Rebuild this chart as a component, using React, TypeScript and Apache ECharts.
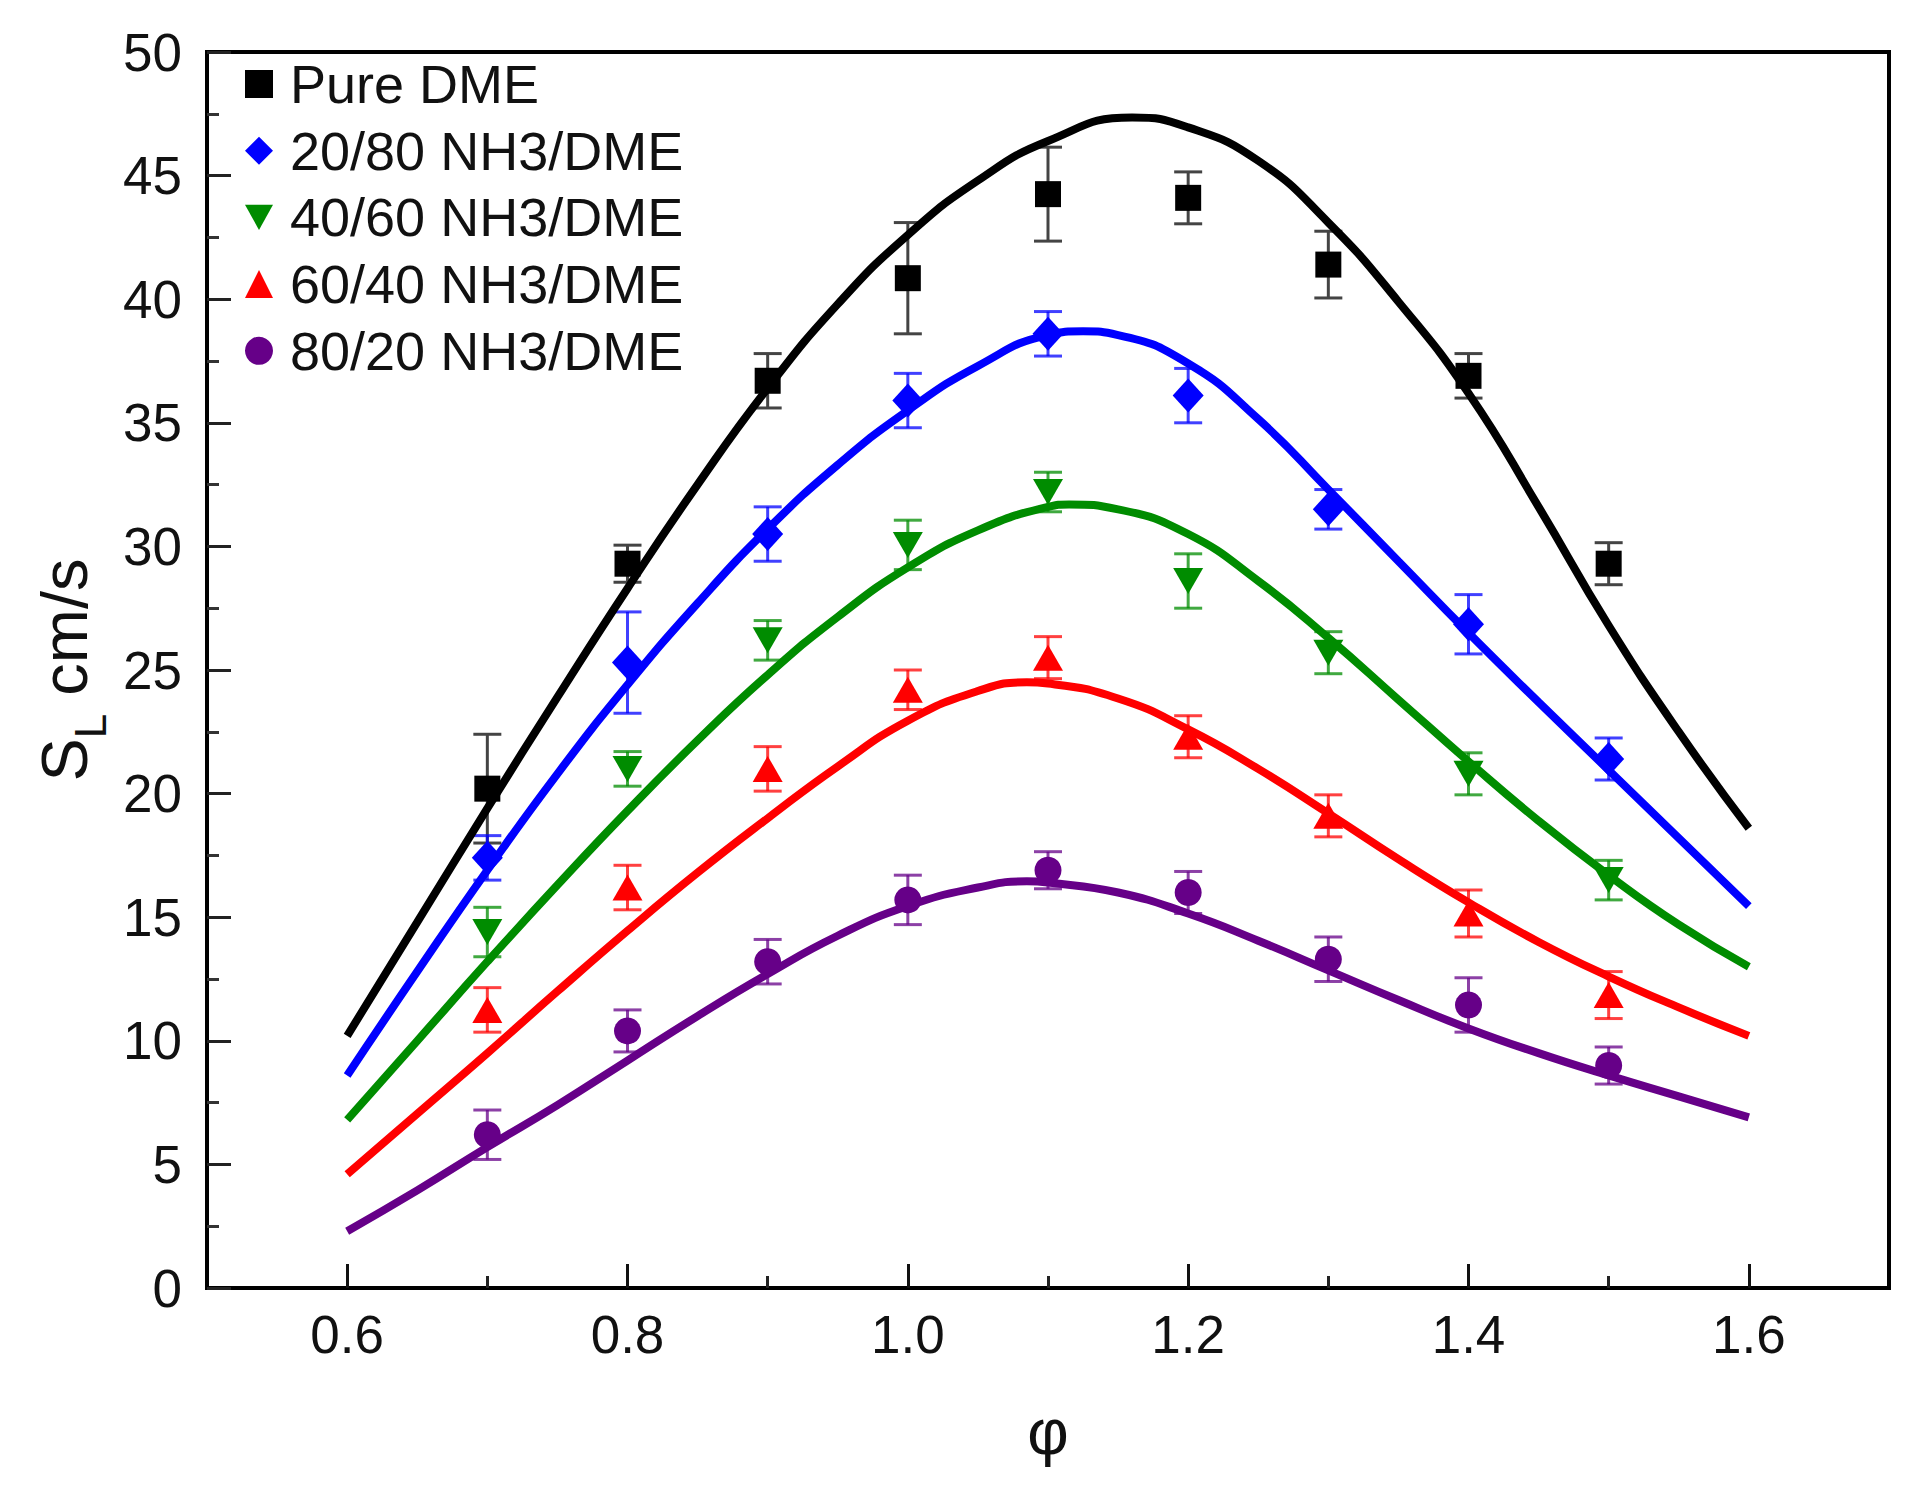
import React, { useEffect, useRef } from "react";
import * as echarts from "echarts";

// Measured points (equivalence ratio)
const phiPoints = [0.7, 0.8, 0.9, 1.0, 1.1, 1.2, 1.3, 1.4, 1.5];

const pureDME = [20.2, 29.3, 36.7, 40.85, 44.25, 44.1, 41.4, 36.9, 29.3];
const pureDMEErr = [2.2, 0.75, 1.1, 2.25, 1.9, 1.05, 1.35, 0.9, 0.85];

const nh3_20 = [17.4, 25.3, 30.5, 35.9, 38.6, 36.1, 31.5, 26.85, 21.4];
const nh3_20Err = [0.9, 2.05, 1.1, 1.1, 0.9, 1.1, 0.8, 1.2, 0.85];

const nh3_40 = [14.4, 21.0, 26.2, 30.06, 32.2, 28.6, 25.7, 20.8, 16.5];
const nh3_40Err = [1.0, 0.7, 0.8, 1.0, 0.8, 1.1, 0.85, 0.85, 0.8];

const nh3_60 = [11.25, 16.2, 21.0, 24.2, 25.5, 22.3, 19.1, 15.15, 11.85];
const nh3_60Err = [0.9, 0.9, 0.9, 0.8, 0.85, 0.85, 0.85, 0.95, 0.95];

const nh3_80 = [6.2, 10.4, 13.2, 15.7, 16.9, 16.0, 13.3, 11.45, 9.0];
const nh3_80Err = [1.0, 0.85, 0.9, 1.0, 0.75, 0.85, 0.9, 1.1, 0.75];

// Simulated curves (incl. each curve's peak)
const phiCurvePure = [0.6, 0.65, 0.7, 0.75, 0.8, 0.85, 0.9, 0.95, 1.0, 1.05, 1.1, 1.16, 1.2, 1.25, 1.3, 1.35, 1.4, 1.45, 1.5, 1.55, 1.6];
const curvePure = [10.2, 14.8, 19.4, 23.9, 28.3, 32.5, 36.4, 39.8, 42.6, 44.8, 46.4, 47.35, 46.95, 45.6, 43.1, 39.9, 36.2, 31.6, 26.8, 22.5, 18.6];

const phiCurve20 = [0.6, 0.65, 0.7, 0.75, 0.8, 0.85, 0.9, 0.95, 1.0, 1.05, 1.1, 1.125, 1.15, 1.2, 1.25, 1.3, 1.35, 1.4, 1.45, 1.5, 1.55, 1.6];
const curve20 = [8.6, 12.8, 16.9, 20.8, 24.4, 27.7, 30.7, 33.3, 35.5, 37.3, 38.55, 38.7, 38.55, 37.4, 35.15, 32.3, 29.4, 26.5, 23.7, 20.95, 18.2, 15.45];

const phiCurve40 = [0.6, 0.65, 0.7, 0.75, 0.8, 0.85, 0.9, 0.95, 1.0, 1.05, 1.1, 1.115, 1.15, 1.2, 1.25, 1.3, 1.35, 1.4, 1.45, 1.5, 1.55, 1.6];
const curve40 = [6.8, 10.0, 13.2, 16.3, 19.3, 22.15, 24.8, 27.15, 29.15, 30.65, 31.6, 31.7, 31.5, 30.5, 28.6, 26.3, 23.8, 21.3, 18.9, 16.7, 14.7, 13.0];

const phiCurve60 = [0.6, 0.65, 0.7, 0.75, 0.8, 0.85, 0.9, 0.95, 1.0, 1.05, 1.085, 1.1, 1.15, 1.2, 1.25, 1.3, 1.35, 1.4, 1.45, 1.5, 1.55, 1.6];
const curve60 = [4.6, 7.05, 9.5, 12.0, 14.45, 16.8, 19.0, 21.1, 22.95, 24.15, 24.5, 24.45, 23.85, 22.6, 21.0, 19.2, 17.35, 15.6, 14.0, 12.6, 11.35, 10.2];

const phiCurve80 = [0.6, 0.65, 0.7, 0.75, 0.8, 0.85, 0.9, 0.95, 1.0, 1.05, 1.085, 1.1, 1.15, 1.2, 1.25, 1.3, 1.35, 1.4, 1.45, 1.5, 1.55, 1.6];
const curve80 = [2.3, 3.95, 5.7, 7.4, 9.2, 11.0, 12.7, 14.25, 15.45, 16.2, 16.45, 16.4, 16.0, 15.15, 14.05, 12.85, 11.65, 10.5, 9.5, 8.6, 7.75, 6.9];

const seriesNames = [
  "Pure DME",
  "20/80 NH3/DME",
  "40/60 NH3/DME",
  "60/40 NH3/DME",
  "80/20 NH3/DME",
];
const xMajorTicks = [0.6, 0.8, 1.0, 1.2, 1.4, 1.6];
const xMinorTicks = [0.7, 0.9, 1.1, 1.3, 1.5];

const FONT = "'Liberation Sans', Arial, sans-serif";

export default function App() {
  const ref = useRef<HTMLDivElement>(null);

  useEffect(() => {
    if (!ref.current) return;
    const chart = echarts.init(ref.current, undefined, { renderer: "svg" });

    const groups = [
      { name: seriesNames[0], vals: pureDME, errs: pureDMEErr, cx: phiCurvePure, curve: curvePure, color: "#000000", errColor: "#444444", symbol: "rect", size: 26 },
      { name: seriesNames[1], vals: nh3_20, errs: nh3_20Err, cx: phiCurve20, curve: curve20, color: "#0000ff", errColor: "#0000ff", symbol: "diamond", size: [31, 34] },
      { name: seriesNames[2], vals: nh3_40, errs: nh3_40Err, cx: phiCurve40, curve: curve40, color: "#008c00", errColor: "#008c00", symbol: "path://M0,0L10,0L5,9Z", size: [30, 26] },
      { name: seriesNames[3], vals: nh3_60, errs: nh3_60Err, cx: phiCurve60, curve: curve60, color: "#ff0000", errColor: "#ff0000", symbol: "triangle", size: [30, 26] },
      { name: seriesNames[4], vals: nh3_80, errs: nh3_80Err, cx: phiCurve80, curve: curve80, color: "#660088", errColor: "#660088", symbol: "circle", size: 27 },
    ];

    const series: any[] = [];
    groups.forEach((g, gi) => {
      series.push({
        type: "line",
        name: g.name + " (model)",
        data: g.cx.map((p, i) => [p, g.curve[i]]),
        smooth: 0.5,
        showSymbol: false,
        symbol: "none",
        lineStyle: { color: g.color, width: 8 },
        itemStyle: { color: g.color },
        z: 3,
        silent: true,
      });
      series.push({
        type: "custom",
        name: g.name + " (error)",
        data: phiPoints.map((p, i) => [p, g.vals[i], g.errs[i]]),
        encode: { x: 0, y: 1 },
        z: 2,
        silent: true,
        renderItem: (params: any, api: any) => {
          const x = api.value(0);
          const y = api.value(1);
          const e = api.value(2);
          const top = api.coord([x, y + e]);
          const bot = api.coord([x, y - e]);
          const hw = 14;
          const st = { stroke: g.errColor, lineWidth: 3, opacity: gi === 0 ? 1 : 0.75 };
          return {
            type: "group",
            children: [
              { type: "line", shape: { x1: top[0], y1: top[1], x2: bot[0], y2: bot[1] }, style: st },
              { type: "line", shape: { x1: top[0] - hw, y1: top[1], x2: top[0] + hw, y2: top[1] }, style: st },
              { type: "line", shape: { x1: bot[0] - hw, y1: bot[1], x2: bot[0] + hw, y2: bot[1] }, style: st },
            ],
          };
        },
      });
      series.push({
        type: "scatter",
        name: g.name,
        data: phiPoints.map((p, i) => [p, g.vals[i]]),
        symbol: g.symbol,
        symbolSize: g.size,
        itemStyle: { color: g.color, opacity: 1 },
        z: 4,
      });
    });

    chart.setOption({
      animation: false,
      backgroundColor: "#ffffff",
      textStyle: { fontFamily: FONT },
      grid: {
        left: 207,
        top: 52,
        right: 25,
        bottom: 206,
        show: true,
        borderColor: "#000",
        borderWidth: 4,
        backgroundColor: "transparent",
      },
      legend: {
        data: seriesNames,
        orient: "vertical",
        left: 240,
        top: 51,
        itemWidth: 28,
        itemHeight: 28,
        itemGap: 10.7,
        selectedMode: false,
        textStyle: {
          fontFamily: FONT,
          fontSize: 54,
          lineHeight: 56,
          color: "#111",
          padding: [0, 0, 0, 12],
        },
      },
      xAxis: [
        {
          type: "value",
          min: 0.5,
          max: 1.7,
          interval: 0.1,
          name: "φ",
          nameLocation: "middle",
          nameGap: 112,
          nameTextStyle: { fontFamily: FONT, fontSize: 64, color: "#111" },
          axisLine: { show: true, onZero: false, lineStyle: { color: "#000", width: 4 } },
          axisTick: {
            show: true,
            inside: true,
            length: 24,
            customValues: xMajorTicks,
            lineStyle: { color: "#111", width: 3 },
          },
          axisLabel: {
            show: true,
            customValues: xMajorTicks,
            formatter: (v: number) => v.toFixed(1),
            fontFamily: FONT,
            fontSize: 53,
            color: "#111",
            margin: 20,
          },
          splitLine: { show: false },
        },
        {
          type: "value",
          min: 0.5,
          max: 1.7,
          interval: 0.1,
          position: "bottom",
          axisLine: { show: false },
          axisTick: {
            show: true,
            inside: true,
            length: 12,
            customValues: xMinorTicks,
            lineStyle: { color: "#222", width: 3 },
          },
          axisLabel: { show: false },
          splitLine: { show: false },
        },
      ],
      yAxis: {
        type: "value",
        min: 0,
        max: 50,
        interval: 5,
        name: "{s|S}{sub|L}{s| cm/s}",
        nameLocation: "middle",
        nameRotate: 90,
        nameGap: 104,
        nameTextStyle: {
          fontFamily: FONT,
          color: "#111",
          rich: {
            s: { fontFamily: FONT, fontSize: 65, lineHeight: 65, verticalAlign: "top", color: "#111" },
            sub: { fontFamily: FONT, fontSize: 44, lineHeight: 44, verticalAlign: "top", padding: [36, 0, 0, 0], color: "#111" },
          },
        },
        axisLine: { show: true, onZero: false, lineStyle: { color: "#000", width: 4 } },
        axisTick: { show: true, inside: true, length: 24, lineStyle: { color: "#222", width: 3 } },
        minorTick: { show: true, splitNumber: 2, length: 12, lineStyle: { color: "#333", width: 3 } },
        axisLabel: { fontFamily: FONT, fontSize: 53, color: "#111", margin: 25 },
        splitLine: { show: false },
        minorSplitLine: { show: false },
      },
      series,
    });

    return () => chart.dispose();
  }, []);

  return (
    <div
      ref={ref}
      style={{ position: "absolute", left: 0, top: 0, width: 1914, height: 1494, background: "#fff" }}
    />
  );
}
